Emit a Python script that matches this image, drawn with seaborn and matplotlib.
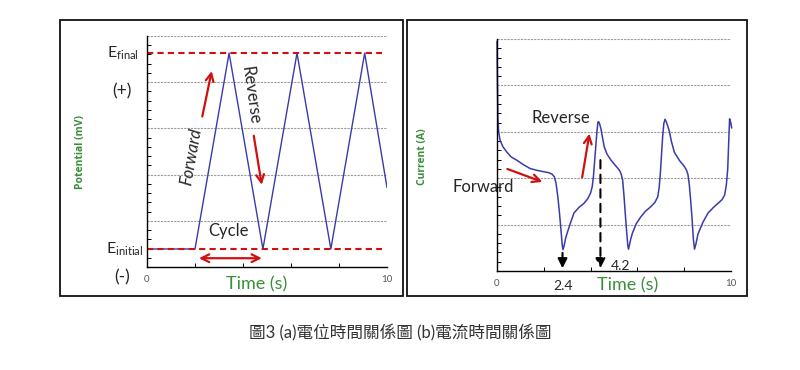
import matplotlib
matplotlib.use("Agg")
import matplotlib.pyplot as plt
from matplotlib.patches import Rectangle
import seaborn as sns
import pandas as pd

# ---------------- data ----------------
# (a) potential vs time: triangle sweep
pot_time = [0.0, 2.0, 3.42, 4.83, 6.25, 7.66, 9.07, 10.0]
pot_value = [0.39, 0.39, 4.63, 0.39, 4.63, 0.39, 4.63, 1.72]
e_final = 4.63
e_initial = 0.39

# (b) current vs time
cur_time = [0.0, 0.02, 0.04, 0.07, 0.13, 0.25, 0.41, 0.6, 0.84, 1.1, 1.41, 1.7, 1.99,
            2.2, 2.35, 2.45, 2.52, 2.6, 2.67, 2.74, 2.79, 2.82, 2.87, 2.93, 3.0, 3.15,
            3.29, 3.5, 3.72, 3.88, 4.0, 4.07, 4.12, 4.17, 4.22, 4.27, 4.31, 4.34, 4.38,
            4.44, 4.5, 4.58, 4.7, 4.87, 5.05, 5.22, 5.3, 5.37, 5.43, 5.48, 5.54, 5.59,
            5.62, 5.67, 5.72, 5.79, 5.95, 6.15, 6.35, 6.58, 6.75, 6.87, 6.93, 6.98,
            7.03, 7.08, 7.13, 7.18, 7.23, 7.3, 7.37, 7.45, 7.58, 7.8, 8.01, 8.1, 8.16,
            8.22, 8.28, 8.34, 8.39, 8.44, 8.5, 8.59, 8.8, 9.02, 9.25, 9.45, 9.62, 9.73,
            9.8, 9.86, 9.9, 9.94, 9.98, 10.03]
cur_value = [4.95, 4.0, 3.3, 3.0, 2.82, 2.68, 2.57, 2.46, 2.39, 2.3, 2.21, 2.17, 2.14,
             2.12, 2.09, 2.03, 1.9, 1.6, 1.25, 0.85, 0.55, 0.46, 0.55, 0.7, 0.82, 1.05,
             1.25, 1.37, 1.46, 1.56, 1.68, 1.82, 2.03, 2.35, 2.68, 3.0, 3.2, 3.22, 3.18,
             3.07, 2.9, 2.68, 2.52, 2.39, 2.28, 2.18, 2.1, 1.96, 1.6, 1.25, 0.85, 0.55,
             0.47, 0.58, 0.7, 0.82, 1.02, 1.17, 1.29, 1.39, 1.48, 1.6, 1.8, 2.1,
             2.5, 2.9, 3.18, 3.27, 3.22, 3.12, 3.0, 2.8, 2.56, 2.38, 2.25, 2.17, 2.08,
             1.85, 1.5, 1.1, 0.7, 0.47, 0.58, 0.8, 1.05, 1.25, 1.37, 1.46, 1.54, 1.64,
             1.85, 2.2, 2.75, 3.28, 3.22, 3.08]

x_ticks = [0, 10]
x_tick_labels = ["0", "10"]
minor_x = [2, 4, 6, 8]
grid_levels = [1, 2, 3, 4, 5]
marked_times = ["2.4", "4.2"]

caption = "圖3 (a)電位時間關係圖 (b)電流時間關係圖"

# ---------------- style ----------------
sns.set_theme(style="white")
plt.rcParams["font.family"] = ["Lato", "Noto Sans CJK TC", "DejaVu Sans"]
plt.rcParams["mathtext.fontset"] = "custom"
plt.rcParams["mathtext.rm"] = "Lato"

W, H = 800, 370
fig = plt.figure(figsize=(8, 3.7), dpi=100)
fig.patch.set_facecolor("white")

GREEN = "#3a8f3a"
RED = "#d01010"
BLUE = "#3a3aaa"


def px_axes(x0, x1, ytop, ybot):
    return fig.add_axes([x0 / W, (H - ybot) / H, (x1 - x0) / W, (ybot - ytop) / H])


def style_axes(ax):
    ax.set_xlim(0, 10)
    ax.set_ylim(0, 5)
    for s in ["top", "right"]:
        ax.spines[s].set_visible(False)
    for s in ["left", "bottom"]:
        ax.spines[s].set_color("black")
        ax.spines[s].set_linewidth(1.0)
    ax.set_yticks([0] + grid_levels)
    ax.set_yticklabels([])
    ax.set_yticks([i * 0.2 for i in range(26)], minor=True)
    ax.set_xticks(x_ticks)
    ax.set_xticklabels(x_tick_labels)
    ax.set_xticks(minor_x, minor=True)
    ax.tick_params(axis="both", which="major", direction="inout", length=5, width=0.8,
                   color="black", labelsize=7, labelcolor="#555555", pad=2)
    ax.tick_params(axis="both", which="minor", direction="in", length=3, width=0.7,
                   color="black", bottom=True, left=True)
    ax.tick_params(axis="x", which="major", pad=3)
    for g in grid_levels:
        ax.axhline(g, color="#9a9a9a", lw=0.8, ls=(0, (2, 1)), zorder=0)
    ax.set_xlabel("")
    ax.set_ylabel("")
    ax.patch.set_alpha(0)


# frames
fig.add_artist(Rectangle((60 / W, (H - 296) / H), 343 / W, 276 / H, transform=fig.transFigure,
                         fill=False, lw=1.3, ec="#111111"))
fig.add_artist(Rectangle((407 / W, (H - 296) / H), 340 / W, 276 / H, transform=fig.transFigure,
                         fill=False, lw=1.3, ec="#111111"))

# ---------------- (a) ----------------
ax1 = px_axes(147, 387, 36, 267)
df1 = pd.DataFrame({"t": pot_time, "v": pot_value})
sns.lineplot(data=df1, x="t", y="v", ax=ax1, color=BLUE, lw=1.0, sort=False, estimator=None)
style_axes(ax1)
ax1.axhline(e_final, xmin=0, xmax=0.98, color=RED, lw=1.5, ls=(0, (3, 2)))
ax1.axhline(e_initial, xmin=0, xmax=0.98, color=RED, lw=1.5, ls=(0, (3, 2)))

ax1.text(-0.35, e_final, r"E$_{\mathrm{final}}$", ha="right", va="center", fontsize=11.5)
ax1.text(-1.05, 3.8, "(+)", ha="center", va="center", fontsize=12.5)
ax1.text(-0.15, e_initial, r"E$_{\mathrm{initial}}$", ha="right", va="center", fontsize=11.5)
ax1.text(-1.05, -0.22, "(-)", ha="center", va="center", fontsize=12.5)
ax1.text(-2.75, 2.5, "Potential (mV)", rotation=90, ha="center", va="center", fontsize=7.5,
         color=GREEN, fontweight="bold", family=["Open Sans", "DejaVu Sans"])
ax1.text(4.55, -0.37, "Time (s)", ha="center", va="center", fontsize=13, color=GREEN)
ax1.text(1.86, 2.39, "Forward", rotation=80, ha="center", va="center", fontsize=12, style="italic")
ax1.text(4.3, 3.72, "Reverse", rotation=-82, ha="center", va="center", fontsize=12)
ax1.text(3.4, 0.77, "Cycle", ha="center", va="center", fontsize=12)

arr = dict(arrowstyle="->", color=RED, lw=1.6, mutation_scale=14)
ax1.annotate("", xy=(2.72, 4.3), xytext=(2.28, 3.2), arrowprops=arr)
ax1.annotate("", xy=(4.8, 1.72), xytext=(4.43, 2.9), arrowprops=arr)
ax1.annotate("", xy=(4.9, 0.19), xytext=(2.05, 0.19),
             arrowprops=dict(arrowstyle="<->", color=RED, lw=1.6, mutation_scale=14))

# ---------------- (b) ----------------
ax2 = px_axes(497, 731, 39, 271)
df2 = pd.DataFrame({"t": cur_time, "i": cur_value})
sns.lineplot(data=df2, x="t", y="i", ax=ax2, color=BLUE, lw=1.1, sort=False, estimator=None)
for ln in ax2.lines:
    ln.set_clip_on(False)
style_axes(ax2)

ax2.text(-3.18, 2.46, "Current (A)", rotation=90, ha="center", va="center", fontsize=7.5,
         color=GREEN, fontweight="bold", family=["Open Sans", "DejaVu Sans"])
ax2.text(5.6, -0.32, "Time (s)", ha="center", va="center", fontsize=13, color=GREEN)
ax2.text(2.75, 3.3, "Reverse", ha="center", va="center", fontsize=12)
ax2.text(-0.6, 1.82, "Forward", ha="center", va="center", fontsize=12)
ax2.annotate("", xy=(2.05, 1.9), xytext=(0.33, 2.22), arrowprops=arr)
ax2.annotate("", xy=(3.97, 3.02), xytext=(3.62, 1.96), arrowprops=arr)

blk = dict(arrowstyle="-|>", color="black", lw=1.5, mutation_scale=14)
ax2.annotate("", xy=(2.8, 0.0), xytext=(2.8, 0.45), arrowprops=blk)
ax2.annotate("", xy=(4.42, 0.0), xytext=(4.42, 2.45),
             arrowprops=dict(arrowstyle="-|>", color="black", lw=1.5, mutation_scale=14,
                             linestyle=(0, (4, 3))))
ax2.text(2.83, -0.32, marked_times[0], ha="center", va="center", fontsize=10)
ax2.text(4.85, 0.1, marked_times[1], ha="left", va="center", fontsize=10)

# caption
fig.text(400 / W, 1 - 333 / H, caption, ha="center", va="center", fontsize=12, color="#333333")

fig.savefig("out.png", dpi=100, facecolor="white")
